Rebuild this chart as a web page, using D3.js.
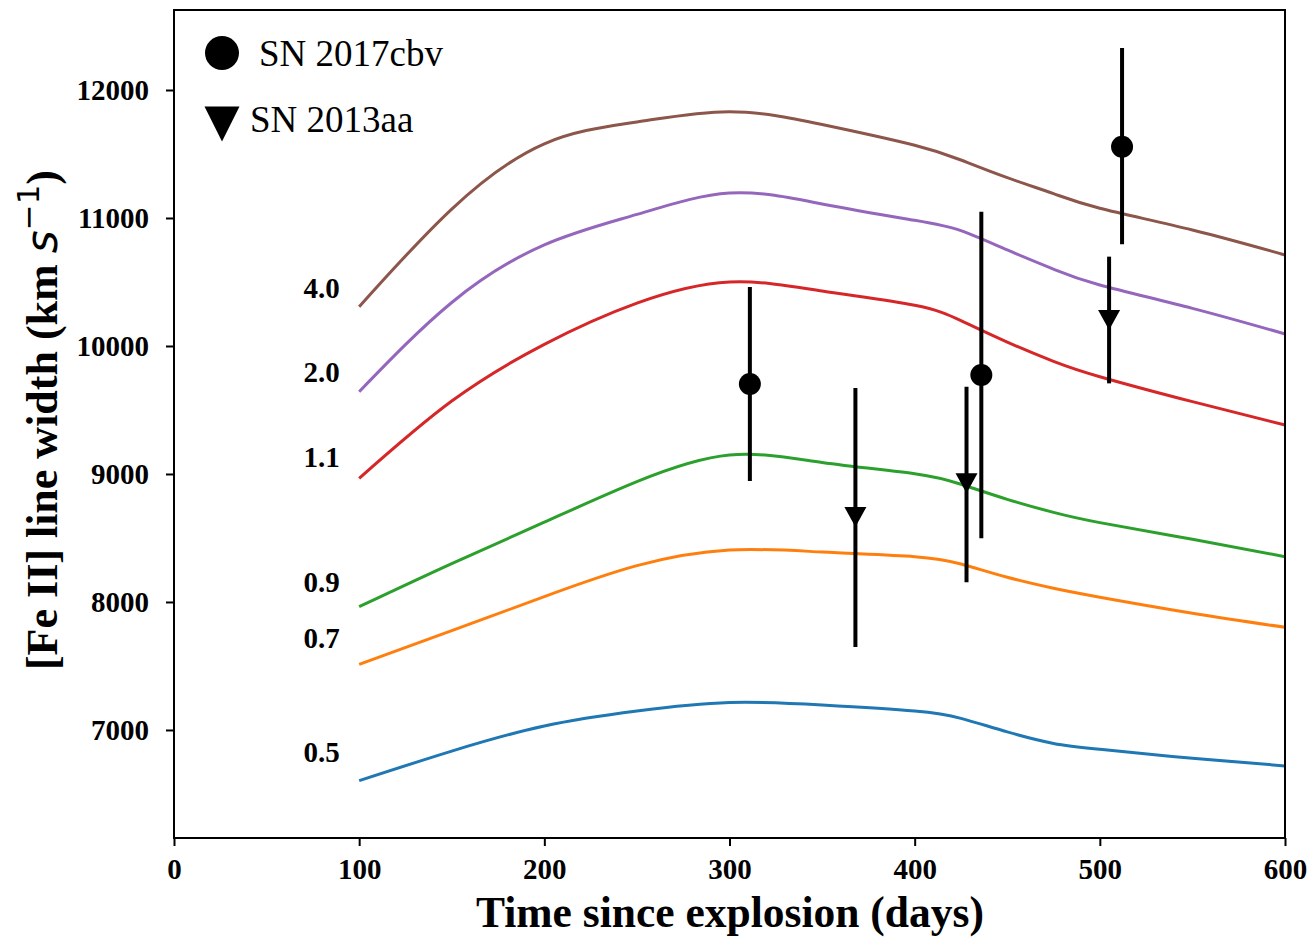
<!DOCTYPE html>
<html lang="en">

<head>
    <meta charset="UTF-8">
    <title>[Fe II] line width</title>
    <script src="https://cdn.jsdelivr.net/npm/d3@7"></script>
    <style>
        body { margin: 0; background: #fff; }
        svg { display: block; }
    </style>
</head>

<body>
    <svg id="chart" width="1310" height="938"></svg>

    <script>
        // model curves, one per mass value
        const days = [100, 150, 200, 250, 300, 350, 400, 425, 450, 475, 500, 550, 600]
        const models = ['0.5', '0.7', '0.9', '1.1', '2.0', '4.0']
        const w05 = [6604, 6835, 7031, 7148, 7214, 7195, 7148, 7091, 6985, 6895, 6849, 6779, 6719]
        const w07 = [7513, 7776, 8042, 8284, 8406, 8390, 8354, 8297, 8193, 8107, 8037, 7912, 7802]
        const w09 = [7963, 8300, 8623, 8940, 9148, 9090, 9002, 8920, 8802, 8700, 8620, 8490, 8354]
        const w11 = [8966, 9570, 10013, 10335, 10500, 10430, 10318, 10198, 10030, 9880, 9760, 9565, 9383]
        const w20 = [9643, 10340, 10790, 11028, 11195, 11110, 10982, 10901, 10750, 10600, 10477, 10294, 10094]
        const w40 = [10307, 11070, 11580, 11750, 11831, 11730, 11568, 11453, 11315, 11190, 11076, 10906, 10711]
        // where the model names sit (days, km/s)
        const labelDay = 70
        const labelWidth = [6750, 7641, 8078, 9055, 9719, 10375]

        // observations
        const cbvDays = [311, 436, 512]
        const cbvWidth = [9703, 9773, 11557]
        const cbvLow = [8945, 8498, 10794]
        const cbvHigh = [10461, 11049, 12328]

        const aaDays = [368, 428, 505]
        const aaWidth = [8664, 8927, 10203]
        const aaLow = [7648, 8154, 9708]
        const aaHigh = [9672, 9682, 10698]

        const xTicks = [0, 100, 200, 300, 400, 500, 600]
        const yTicks = [7000, 8000, 9000, 10000, 11000, 12000]

        const colors = ['#1f77b4', '#ff7f0e', '#2ca02c', '#d62728', '#9467bd', '#8c564b']
        const serif = '"Liberation Serif", "Times New Roman", serif'

        const svg = d3.select('#chart')
        const plotL = 174, plotR = 1285, plotT = 10, plotB = 838

        const x = d3.scaleLinear().domain([0, 600]).range([plotL, plotR])
        const y = d3.scaleLinear().domain([6156, 12625]).range([plotB, plotT])

        // curves
        const series = [w05, w07, w09, w11, w20, w40]
        const line = d3.line()
            .x((d, i) => x(days[i]))
            .y(d => y(d))
            .curve(d3.curveNatural)

        svg.append('g')
            .selectAll('path')
            .data(series)
            .join('path')
            .attr('d', d => line(d))
            .attr('fill', 'none')
            .attr('stroke', (d, i) => colors[i])
            .attr('stroke-width', 3)

        svg.append('g')
            .selectAll('text')
            .data(models)
            .join('text')
            .attr('x', x(labelDay))
            .attr('y', (d, i) => y(labelWidth[i]))
            .attr('font-family', serif)
            .attr('font-weight', 'bold')
            .attr('font-size', 29)
            .text(d => d)

        // error bars
        const bars = svg.append('g')
        const drawBars = (dd, lo, hi) => {
            bars.append('g')
                .selectAll('line')
                .data(dd)
                .join('line')
                .attr('x1', d => x(d))
                .attr('x2', d => x(d))
                .attr('y1', (d, i) => y(lo[i]))
                .attr('y2', (d, i) => y(hi[i]))
                .attr('stroke', 'black')
                .attr('stroke-width', 4)
        }
        drawBars(cbvDays, cbvLow, cbvHigh)
        drawBars(aaDays, aaLow, aaHigh)

        bars.append('g')
            .selectAll('circle')
            .data(cbvDays)
            .join('circle')
            .attr('cx', d => x(d))
            .attr('cy', (d, i) => y(cbvWidth[i]))
            .attr('r', 11)
            .attr('fill', 'black')

        const tri = (w, h) => `M${-w / 2},${-h / 2}L${w / 2},${-h / 2}L0,${h / 2}Z`
        bars.append('g')
            .selectAll('path')
            .data(aaDays)
            .join('path')
            .attr('transform', (d, i) => `translate(${x(d)},${y(aaWidth[i])})`)
            .attr('d', tri(22, 20))
            .attr('fill', 'black')

        // axes
        const xAxis = svg.append('g')
            .attr('transform', `translate(0,${plotB})`)
            .call(d3.axisBottom(x).tickValues(xTicks).tickSize(8).tickPadding(12).tickFormat(d3.format('d')))
        const yAxis = svg.append('g')
            .attr('transform', `translate(${plotL},0)`)
            .call(d3.axisLeft(y).tickValues(yTicks).tickSize(8).tickPadding(17).tickFormat(d3.format('d')))

        for (const ax of [xAxis, yAxis]) {
            ax.select('.domain').remove()
            ax.selectAll('line').attr('stroke', 'black').attr('stroke-width', 2)
            ax.selectAll('text')
                .attr('font-family', serif)
                .attr('font-weight', 'bold')
                .attr('font-size', 29)
                .attr('fill', 'black')
        }

        svg.append('rect')
            .attr('x', plotL)
            .attr('y', plotT)
            .attr('width', plotR - plotL)
            .attr('height', plotB - plotT)
            .attr('fill', 'none')
            .attr('stroke', 'black')
            .attr('stroke-width', 2)

        // axis titles
        svg.append('text')
            .attr('x', 730)
            .attr('y', 927)
            .attr('text-anchor', 'middle')
            .attr('font-family', serif)
            .attr('font-weight', 'bold')
            .attr('font-size', 43.5)
            .text('Time since explosion (days)')

        const yTitle = svg.append('text')
            .attr('transform', 'translate(57,420) rotate(-90)')
            .attr('text-anchor', 'middle')
            .attr('font-family', serif)
            .attr('font-weight', 'bold')
            .attr('font-size', 44)
        yTitle.append('tspan').text('[Fe II] line width (km ')
        yTitle.append('tspan')
            .attr('font-family', '"DejaVu Sans", sans-serif')
            .attr('font-style', 'oblique')
            .attr('font-weight', 'normal')
            .text('s')
        yTitle.append('tspan')
            .attr('font-family', '"DejaVu Sans", sans-serif')
            .attr('font-weight', 'normal')
            .attr('font-size', 31)
            .attr('dy', -18)
            .text('\u22121')
        yTitle.append('tspan').attr('dy', 18).text(')')

        // legend
        const legend = svg.append('g')
        legend.append('circle')
            .attr('cx', 222).attr('cy', 53).attr('r', 17)
            .attr('fill', 'black')
        legend.append('text')
            .attr('x', 259).attr('y', 66)
            .attr('font-family', serif)
            .attr('font-size', 37)
            .text('SN 2017cbv')
        legend.append('path')
            .attr('transform', 'translate(222,124)')
            .attr('d', tri(35, 35))
            .attr('fill', 'black')
        legend.append('text')
            .attr('x', 250).attr('y', 132)
            .attr('font-family', serif)
            .attr('font-size', 37)
            .text('SN 2013aa')
    </script>
</body>

</html>
